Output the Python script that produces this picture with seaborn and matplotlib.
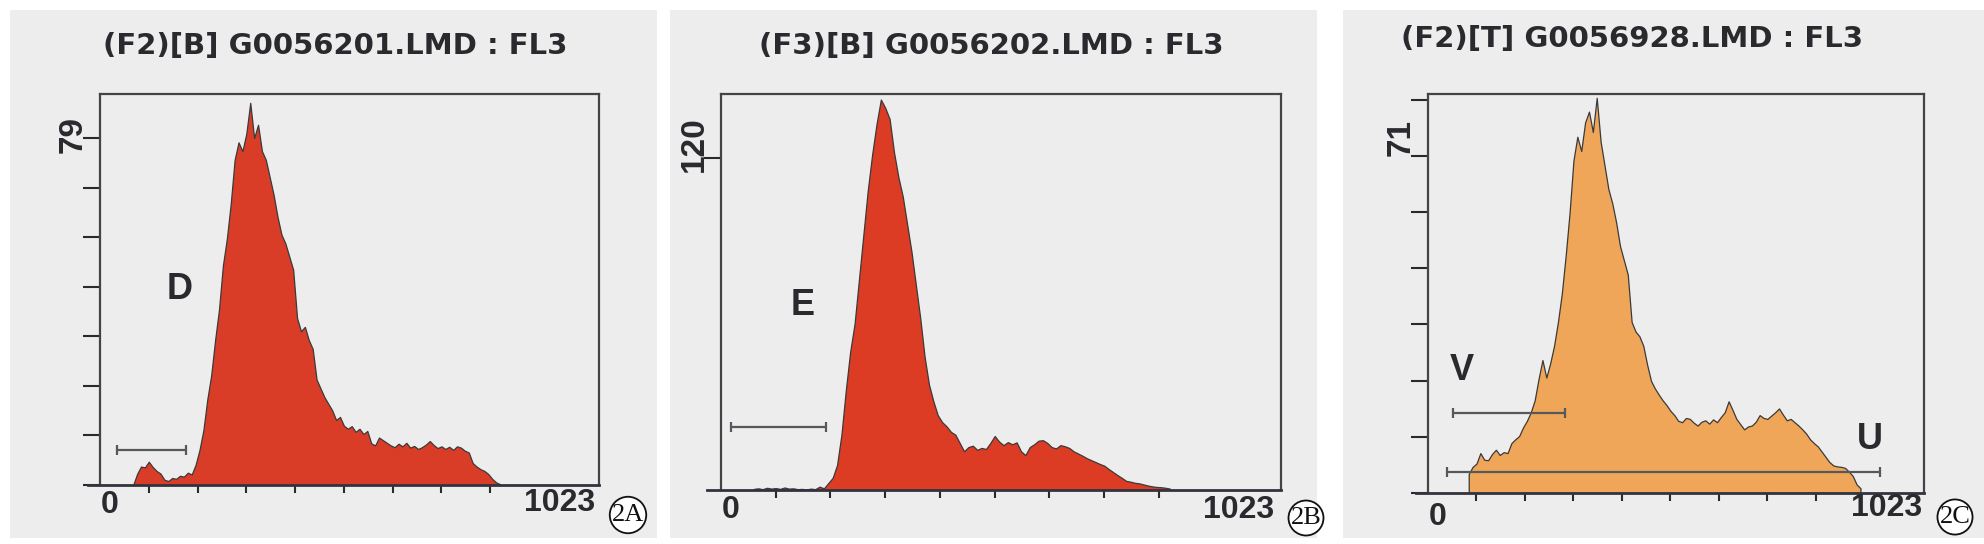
import numpy as np
import pandas as pd
import matplotlib
matplotlib.use('Agg')
import matplotlib.pyplot as plt
from matplotlib.patches import Rectangle
import seaborn as sns

# ---- data (FL3 histograms, 8-channel bins) ----
bin_w = 8
titles = ['(F2)[B] G0056201.LMD : FL3',
          '(F3)[B] G0056202.LMD : FL3',
          '(F2)[T] G0056928.LMD : FL3']
ymax_labels = [79, 120, 71]
panel_tags = ['2A', '2B', '2C']

start_a = 64
counts_a = [0, 2.5, 4.2, 4.0, 5.3, 4.1, 3.2, 2.6, 1.2, 0.9, 1.6, 1.4, 2.1, 1.9, 2.8, 2.4,
            4.6, 8.0, 12.5, 19.5, 25, 33, 40, 50, 56, 64, 74, 78, 76, 80, 87, 79,
            82, 76, 74, 70, 66, 61, 57, 55, 52, 49, 38, 35, 36, 33, 31, 24,
            22, 20, 18.5, 17, 14.8, 15.5, 13.5, 12.8, 13.4, 12.1, 12.8, 11.6, 12.3, 9.5,
            9.0, 10.8, 10.2, 9.6, 9.0, 8.6, 9.4, 8.8, 9.6, 8.5, 8.9, 8.2, 8.6, 9.2,
            10.0, 9.1, 8.4, 8.8, 8.2, 8.7, 8.0, 8.8, 8.5, 7.8, 7.4, 5.0, 4.2, 3.6,
            3.2, 2.5, 1.4, 0.6, 0.2]

start_b = 56
counts_b = [0.4, 0.6, 0.3, 0.8, 0.5, 0.7, 0.4, 0.9, 0.5, 0.6, 0.3, 0.4, 0.2, 0.5, 0.3, 1.2,
            0.6, 2.5, 4.4, 9, 20, 36, 50, 60, 76, 92, 108, 121, 132, 141, 138, 134,
            122, 113, 106, 96, 86, 74, 62, 48, 38, 32, 27, 24.5, 23, 21, 20, 17,
            14, 15.5, 16, 14.5, 15.2, 14.8, 17, 19.5, 17.5, 16.2, 17.3, 16.5, 17.2, 14,
            12.6, 15.5, 16.5, 17.8, 18, 17, 15.5, 15, 16.2, 15.8, 15.2, 14, 13.2, 12.4,
            11.5, 10.8, 10.1, 9.4, 8.8, 7.6, 6.5, 5.4, 4.4, 3.3, 3.0, 2.6, 2.4, 2.0,
            1.6, 1.3, 1.1, 1.0, 0.8, 0.5]

start_c = 80
counts_c = [4.0, 5.5, 6.2, 8.4, 7.0, 6.9, 8.2, 9.1, 8.0, 8.6, 8.4, 10.5, 11.3, 12.0, 13.8, 15.2,
            17.0, 19.5, 24, 28, 24.3, 27.3, 31, 36, 42, 50, 59, 70, 75, 72, 78, 80.3,
            76, 83.2, 74, 69, 64, 61, 57, 52, 49, 46, 36, 34, 33, 31, 27, 23.6,
            22, 20.7, 19.5, 18.5, 17.3, 16.4, 15.2, 14.9, 15.8, 15.6, 14.8, 14.2, 15.0, 15.3,
            14.6, 15.5, 14.9, 16.0, 17.0, 19.3, 17.5, 15.6, 14.5, 13.4, 14.0, 14.2, 15.0, 16.4,
            15.8, 15.6, 16.3, 17.0, 17.8, 16.5, 15.3, 15.6, 14.9, 14.2, 13.4, 12.5, 11.3, 10.5,
            9.8, 8.7, 7.6, 6.5, 5.8, 5.6, 5.5, 5.3, 4.5, 3.6, 1.8, 1.0]

starts = [start_a, start_b, start_c]
counts = [counts_a, counts_b, counts_c]

# gates: (left channel, right channel, height) and region letters (channel, height)
gates = [[(35, 176, 8.0)],
         [(18, 191, 22.8)],
         [(52, 282, 16.8), (39, 932, 4.5)]]
letters = [[('D', 163, 44.6)],
           [('E', 149, 66.6)],
           [('V', 69, 25.8), ('U', 911, 11.3)]]

# ---- style ----
W, H = 1984, 544
sns.set_theme(style='white')
plt.rcParams['font.family'] = ['Liberation Sans', 'DejaVu Sans']
ink = '#2a2a2e'
paper = '#ededee'
fills = ['#d93d27', '#dc3b24', '#efa658']

fig = plt.figure(figsize=(W / 100, H / 100), dpi=100)
fig.patch.set_facecolor('white')

# scanned paper areas (px: x0, x1)
for x0, x1 in [(10, 657), (670, 1317), (1343, 1984)]:
    fig.patches.append(Rectangle((x0 / W, 1 - 538 / H), (x1 - x0) / W, 528 / H,
                                 transform=fig.transFigure, facecolor=paper,
                                 edgecolor='none', zorder=-5))

# axes boxes in px: left, right, top, bottom
boxes = [(100, 599, 94, 485), (721, 1281, 94, 490), (1428, 1924, 94, 493)]
ylims = [89, 143, 84]
ytick_sets = [[79 * k / 7 for k in range(8)], [120], [71 * k / 6 for k in range(8)]]
title_pos = [(335, 46), (991, 46), (1632, 39)]
zero_lab = [(20, 20), (18, 20), (20, 24)]
end_lab = [(943, 18), (945, 20), (946, 15)]
ylab_v = [79.7, 125, 74.8]
tag_pos = [(628, 515), (1306, 518), (1955, 517)]

for i in range(3):
    l, r, t, b = boxes[i]
    ax = fig.add_axes([l / W, 1 - b / H, (r - l) / W, (b - t) / H])
    ax.set_facecolor('none')
    ax.set_zorder(2)

    n = len(counts[i])
    edges = [starts[i] + bin_w * k for k in range(n + 1)]
    df = pd.DataFrame({'channel': [e + bin_w / 2 for e in edges[:-1]],
                       'count': counts[i]})
    sns.histplot(data=df, x='channel', weights='count', bins=edges, element='poly',
                 fill=True, color=fills[i], alpha=1, edgecolor='#3a3a3a',
                 linewidth=0.9, ax=ax)

    for g0, g1, gy in gates[i]:
        ax.plot([g0, g1], [gy, gy], color='#55595c', lw=1.6, zorder=5)
        ax.plot([g0, g1], [gy, gy], ls='none', marker='|', ms=7, mew=1.6,
                color='#55595c', zorder=5)
    for s, cx, cy in letters[i]:
        ax.text(cx, cy, s, fontsize=26, fontweight='bold', color=ink,
                ha='center', va='center')

    ax.set_xlim(0, 1023)
    ax.set_ylim(0, ylims[i])
    ax.set_xlabel('')
    ax.set_ylabel('')
    ax.set_xticks(range(100, 900, 100))
    ax.set_xticklabels([])
    ax.set_yticks(ytick_sets[i])
    ax.set_yticklabels([])
    ax.tick_params(axis='x', direction='out', length=6, width=1.5, color=ink, bottom=True)
    ax.tick_params(axis='y', direction='out', length=12, width=1.5, color=ink, left=True)
    for side, sp in ax.spines.items():
        sp.set_visible(True)
        sp.set_color('#444448')
        sp.set_linewidth(1.6)
    ax.spines['bottom'].set_bounds(-25, 1023)
    ax.spines['bottom'].set_linewidth(2.0)
    ax.spines['bottom'].set_color('#333340')

    trans = ax.get_xaxis_transform()
    ax.annotate('0', (zero_lab[i][0], 0), xycoords=trans, xytext=(0, -zero_lab[i][1] * 0.72),
                textcoords='offset points', ha='center', va='center',
                fontsize=23, fontweight='bold', color=ink)
    ax.annotate('1023', (end_lab[i][0], 0), xycoords=trans, xytext=(0, -end_lab[i][1] * 0.72),
                textcoords='offset points', ha='center', va='center',
                fontsize=23, fontweight='bold', color=ink)
    ax.annotate(str(ymax_labels[i]), (0, ylab_v[i]), xycoords=ax.get_yaxis_transform(),
                xytext=(-27 * 0.72, 0), textcoords='offset points', rotation=90,
                ha='center', va='center', fontsize=24, fontweight='bold', color=ink)

    fig.text(title_pos[i][0] / W, 1 - title_pos[i][1] / H, titles[i], ha='center',
             va='center', fontsize=21, fontweight='bold', color=ink,
             family=['DejaVu Sans'])
    fig.text(tag_pos[i][0] / W, 1 - tag_pos[i][1] / H, panel_tags[i], ha='center',
             va='center', fontsize=19, family=['Liberation Serif', 'DejaVu Serif'],
             color='#111111',
             bbox=dict(boxstyle='circle,pad=0.08', facecolor='white', edgecolor='#111111',
                       linewidth=1.3))

fig.savefig('out.png', dpi=100)
